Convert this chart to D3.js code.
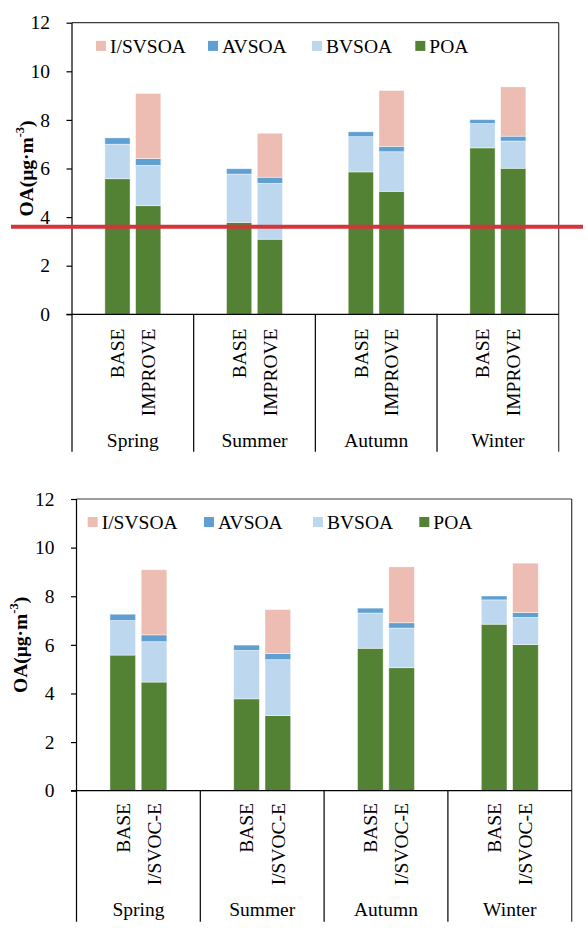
<!DOCTYPE html>
<html>
<head>
<meta charset="utf-8">
<script src="https://cdn.jsdelivr.net/npm/d3@7"></script>
<style>
  html, body { margin: 0; padding: 0; background: #fff; }
  svg { display: block; }
  svg text { font-family: "Liberation Serif", "Times New Roman", serif; fill: #000; }
</style>
</head>
<body>
<svg id="chart" width="588" height="934"></svg>
<script>
// Seasonal organic aerosol composition, two scenario pairs
const seasons = ["Spring", "Summer", "Autumn", "Winter"];
const scenariosTop = ["BASE", "IMPROVE"];
const scenariosBottom = ["BASE", "I/SVOC-E"];
const components = ["POA", "BVSOA", "AVSOA", "I/SVSOA"];   // stacking order, bottom to top
const legendOrder = ["I/SVSOA", "AVSOA", "BVSOA", "POA"];

// values per season: [BASE, scenario]
const poa    = [[5.58, 4.47], [3.78, 3.09], [5.86, 5.06], [6.85, 6.01]];
const bvsoa  = [[1.42, 1.66], [1.99, 2.30], [1.45, 1.63], [1.00, 1.12]];
const avsoa  = [[0.26, 0.28], [0.22, 0.25], [0.20, 0.22], [0.16, 0.20]];
const isvsoa = [[0.00, 2.68], [0.00, 1.81], [0.00, 2.30], [0.00, 2.03]];

const yTicks = [0, 2, 4, 6, 8, 10, 12];
const refLineValue = 3.6;

const colors = {
  "POA": "#548235",
  "BVSOA": "#bdd7ee",
  "AVSOA": "#5f9fd2",
  "I/SVSOA": "#edbcb2"
};

const FONT = "'Liberation Serif', 'Times New Roman', serif";
const svg = d3.select("#chart");

function drawChart(cfg) {
  const g = svg.append("g");
  const x0 = d3.scaleBand().domain(seasons).range([cfg.left, cfg.right]);
  const bw = x0.bandwidth();
  const x1 = d3.scaleBand().domain(cfg.scenarios)
    .range([bw * 0.27, bw * 0.73]).paddingInner(0.18);
  const y = d3.scaleLinear().domain([0, 12]).range([cfg.bottom, cfg.top]);

  const rows = [];
  seasons.forEach((s, i) => {
    cfg.scenarios.forEach((sc, j) => {
      rows.push({
        season: s, scenario: sc,
        "POA": poa[i][j], "BVSOA": bvsoa[i][j],
        "AVSOA": avsoa[i][j], "I/SVSOA": isvsoa[i][j]
      });
    });
  });
  const stacked = d3.stack().keys(components)(rows);

  // stacked bars
  g.selectAll("g.layer").data(stacked).join("g")
    .attr("class", "layer")
    .attr("fill", d => colors[d.key])
    .selectAll("rect")
    .data(d => d.filter(p => p[1] - p[0] > 0))
    .join("rect")
    .attr("x", d => x0(d.data.season) + x1(d.data.scenario))
    .attr("width", x1.bandwidth())
    .attr("y", d => y(d[1]))
    .attr("height", d => y(d[0]) - y(d[1]))
    .attr("stroke", "#ffffff")
    .attr("stroke-opacity", 0.55)
    .attr("stroke-width", 0.8);

  // plot frame: top edge
  g.append("line")
    .attr("x1", cfg.left).attr("x2", cfg.right)
    .attr("y1", cfg.top).attr("y2", cfg.top)
    .attr("stroke", "#3a3a3a").attr("stroke-width", 1.2);
  // left axis line, right edge and category separators reaching down through the label area
  const seps = seasons.map(s => x0(s)).concat([cfg.right]);
  g.selectAll("line.sep").data(seps).join("line")
    .attr("class", "sep")
    .attr("x1", d => d).attr("x2", d => d)
    .attr("y1", (d, i) => (i === 0 || i === seps.length - 1) ? cfg.top : cfg.bottom)
    .attr("y2", cfg.sepBottom)
    .attr("stroke", (d, i) => i === seps.length - 1 ? "#3a3a3a" : "#000")
    .attr("stroke-width", 1.2);

  // y axis ticks and labels
  const yAxis = d3.axisLeft(y).tickValues(yTicks).tickSize(5.5).tickSizeOuter(0).tickPadding(16.5);
  const ya = g.append("g").attr("transform", `translate(${cfg.left},0)`).call(yAxis)
    .attr("font-family", FONT).attr("font-size", 19.5);
  ya.select(".domain").remove();
  ya.selectAll(".tick line").attr("stroke", "#000").attr("stroke-width", 1.2);
  ya.selectAll(".tick text")
    .style("font-family", FONT)
    .attr("font-size", 19.5).attr("fill", "#000");

  // baseline at zero
  g.append("line")
    .attr("x1", cfg.left - 5.5).attr("x2", cfg.right)
    .attr("y1", y(0)).attr("y2", y(0))
    .attr("stroke", "#000").attr("stroke-width", 1.3);

  // scenario labels (vertical)
  g.selectAll("text.scen").data(rows).join("text")
    .attr("class", "scen")
    .attr("transform", d => `translate(${x0(d.season) + x1(d.scenario) + x1.bandwidth() / 2},${cfg.labelTop}) rotate(-90)`)
    .attr("text-anchor", "end")
    .attr("dy", "0.35em")
    .style("font-family", FONT)
    .attr("font-size", 19.5)
    .text(d => d.scenario);

  // season labels
  g.selectAll("text.season").data(seasons).join("text")
    .attr("class", "season")
    .attr("x", d => x0(d) + bw / 2)
    .attr("y", cfg.seasonBaseline)
    .attr("text-anchor", "middle")
    .style("font-family", FONT)
    .attr("font-size", 19.5)
    .text(d => d);

  // y axis title
  const title = g.append("text")
    .attr("transform", `translate(${cfg.titleX},${(cfg.top + cfg.bottom) / 2}) rotate(-90)`)
    .attr("text-anchor", "middle")
    .attr("dy", "0.35em")
    .style("font-family", FONT)
    .attr("font-weight", "bold")
    .attr("font-size", 19.5);
  title.append("tspan").text("OA(μg·m");
  title.append("tspan").attr("font-size", 12.5).attr("dy", "-0.75em").text("-3");
  title.append("tspan").attr("dy", "0.48em").text(")");

  // legend
  const lg = g.selectAll("g.leg").data(legendOrder).join("g")
    .attr("class", "leg")
    .attr("transform", (d, i) => `translate(${cfg.legendX[i]},${cfg.legendY})`);
  lg.append("rect")
    .attr("width", 10).attr("height", 10)
    .attr("fill", d => colors[d]);
  lg.append("text")
    .attr("x", 14).attr("y", 12.3)
    .style("font-family", FONT)
    .attr("font-size", 19.5)
    .text(d => d);

  return { x0, x1, y };
}

const upperChart = drawChart({
  scenarios: scenariosTop,
  left: 72, right: 558.7, top: 22.7, bottom: 314.3,
  sepBottom: 451.7, labelTop: 328.5, seasonBaseline: 446.5,
  titleX: 26.5,
  legendX: [96, 208, 312, 415.3], legendY: 40.9
});

drawChart({
  scenarios: scenariosBottom,
  left: 76.5, right: 571.7, top: 499, bottom: 790.7,
  sepBottom: 921.7, labelTop: 803, seasonBaseline: 915.5,
  titleX: 20.5,
  legendX: [87.7, 204, 313, 419.3], legendY: 517
});

// reference level drawn across the upper chart
svg.append("line")
  .attr("x1", 11).attr("x2", 583)
  .attr("y1", upperChart.y(refLineValue)).attr("y2", upperChart.y(refLineValue))
  .attr("stroke", "#d2363a").attr("stroke-width", 4);
</script>
</body>
</html>
